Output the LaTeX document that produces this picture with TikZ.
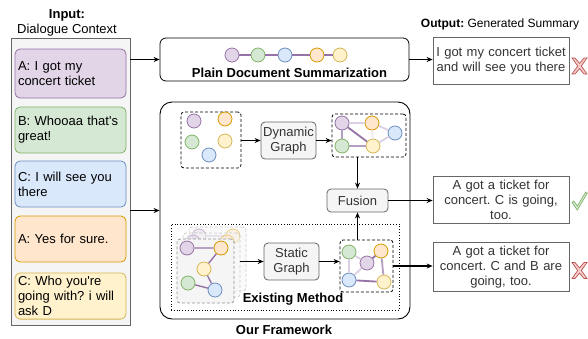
\documentclass[tikz,border=0pt]{standalone}
\usepackage{fontspec}
\setmainfont{Liberation Sans}[Ligatures=TeXOff]
\usetikzlibrary{arrows.meta}
\frenchspacing
\definecolor{purF}{HTML}{E1D5E7}\definecolor{purD}{HTML}{9673A6}
\definecolor{grnF}{HTML}{D5E8D4}\definecolor{grnD}{HTML}{82B366}
\definecolor{bluF}{HTML}{DAE8FC}\definecolor{bluD}{HTML}{6C8EBF}
\definecolor{orgF}{HTML}{FFE6CC}\definecolor{orgD}{HTML}{D79B00}
\definecolor{ylwF}{HTML}{FFF2CC}\definecolor{ylwD}{HTML}{D6B656}
\definecolor{gryF}{HTML}{F5F5F5}\definecolor{gryD}{HTML}{666666}
\definecolor{redF}{HTML}{F8CECC}\definecolor{redD}{HTML}{B85450}
\definecolor{txtG}{HTML}{333333}
\definecolor{eDark}{HTML}{9673A6}\definecolor{eMid}{HTML}{B49DC2}
\definecolor{eLight}{HTML}{DCCFE3}\definecolor{eFaint}{HTML}{EEE8F1}
\tikzset{
  base/.style={font=\fontsize{13}{15}\selectfont},
  boldtxt/.style={font=\bfseries\fontsize{13}{15}\selectfont},
  dlg/.style={base, rounded corners=5pt, line width=0.8pt, minimum height=46pt,
    text width=105pt, inner xsep=3pt, align=left},
  outbox/.style={base, draw=gryD, line width=0.8pt, text=txtG, align=center,
    text width=132pt, inner xsep=2pt, minimum height=47pt},
  procbox/.style={base, draw=gryD, fill=gryF, text=txtG, rounded corners=4pt,
    line width=0.8pt, align=center, inner sep=0pt},
  dbox/.style={draw=black, dashed, dash pattern=on 3pt off 2pt, line width=0.8pt,
    rounded corners=3pt, inner sep=0pt},
  card/.style={draw=gryD!70, fill=gryF, dashed, dash pattern=on 3pt off 2pt,
    line width=0.8pt, rounded corners=3pt, inner sep=0pt, minimum width=57pt, minimum height=64pt},
  gn/.style={circle, minimum size=14pt, inner sep=0pt, line width=0.8pt},
  cpur/.style={gn, fill=purF, draw=purD},
  cgrn/.style={gn, fill=grnF, draw=grnD},
  cblu/.style={gn, fill=bluF, draw=bluD},
  corg/.style={gn, fill=orgF, draw=orgD},
  cylw/.style={gn, fill=ylwF, draw=ylwD},
  ge/.style={line width=1.8pt},
  arr/.style={-{Stealth[length=6pt,width=5pt]}, line width=1.2pt},
  pics/redx/.style={code={\draw[draw=redD, fill=redF, line width=0.7pt]
    (-7.5,-8) -- (-4.5,-8) -- (0,-2.6) -- (4.5,-8) -- (7.5,-8) -- (1.8,0) -- (7.5,8)
    -- (4.5,8) -- (0,2.6) -- (-4.5,8) -- (-7.5,8) -- (-1.8,0) -- cycle;}},
  pics/okcheck/.style={code={\draw[draw=grnD, fill=grnF, line width=0.7pt]
    (-7.5,1.5) -- (-5.8,0) -- (-2.2,5) -- (6.2,-9) -- (7.8,-7.8) -- (-2.2,9) -- cycle;}}
}
\begin{document}
\begin{tikzpicture}[x=1pt,y=-1pt]
\useasboundingbox (0,0) rectangle (588,338);

% ---------- input ----------
\node[boldtxt] (inT) at (67,15) {Input:};
\node[base] (inS) at (67,30) {Dialogue Context};
\node[draw=gryD, fill=gryF, line width=0.8pt, minimum width=119pt, minimum height=287pt, inner sep=0pt] (ctx) at (70.5,181.5) {};
\node[dlg, fill=purF, draw=purD, minimum height=49pt] (d1) at (70.5,73.5) {A: I got my\\concert ticket};
\node[dlg, fill=grnF, draw=grnD] (d2) at (70.5,130) {B: Whooaa that's\\great!};
\node[dlg, fill=bluF, draw=bluD] (d3) at (70.5,184) {C: I will see you\\there};
\node[dlg, fill=orgF, draw=orgD] (d4) at (70.5,239) {A: Yes for sure.};
\node[dlg, fill=ylwF, draw=ylwD] (d5) at (70.5,296) {C: Who you're\\going with? i will\\ask D};

% ---------- plain summarization ----------
\node[draw=black, rounded corners=6pt, line width=0.8pt, minimum width=249pt, minimum height=43pt, inner sep=0pt] (plain) at (284.5,59.5) {};
\node[cpur] (pa1) at (232,55) {};
\node[cgrn] (pa2) at (258,55) {};
\node[cblu] (pa3) at (285,55) {};
\node[corg] (pa4) at (317,55) {};
\node[cylw] (pa5) at (340,55) {};
\draw[ge, eDark, line width=1.4pt] (pa1) -- (pa2) (pa2) -- (pa3) (pa3) -- (pa4) (pa4) -- (pa5);
\node[boldtxt] (plainT) at (289.5,73) {Plain Document Summarization};

% ---------- framework ----------
\node[draw=black, rounded corners=12pt, line width=0.9pt, minimum width=250pt, minimum height=217pt, inner sep=0pt] (fw) at (285,210.5) {};
\node[boldtxt] (fwT) at (284,330) {Our Framework};

% dynamic branch
\node[dbox, minimum width=60pt, minimum height=56pt] (b1) at (211,140) {};
\node[cpur] (q1) at (194,121) {};
\node[corg] (q2) at (225,119) {};
\node[cgrn] (q3) at (192,142) {};
\node[cylw] (q4) at (225,141) {};
\node[cblu] (q5) at (209,155) {};

\node[procbox, minimum width=55pt, minimum height=37pt] (dyn) at (288.5,140.5) {Dynamic\\Graph};

\node[dbox, minimum width=74pt, minimum height=43pt] (b2) at (369,135.5) {};
\node[cpur] (r1) at (342,123) {};
\node[corg] (r2) at (372,123) {};
\node[cblu] (r3) at (395,133) {};
\node[cgrn] (r4) at (342,146) {};
\node[cylw] (r5) at (373,146) {};
\draw[ge, eLight] (r1) -- (r2);
\draw[ge, eFaint] (r2) -- (r5);
\draw[ge, eLight] (r2) -- (r3);
\draw[ge, eLight] (r5) -- (r3);
\draw[ge, eMid] (r1) -- (r4);
\draw[ge, eMid] (r4) -- (r5);
\draw[ge, eDark] (r1) -- (r5);

\node[procbox, minimum width=61pt, minimum height=23pt] (fus) at (357.5,200.5) {Fusion};

% existing method
\node[draw=black, dotted, line width=0.8pt, minimum width=228pt, minimum height=86pt, inner sep=0pt] (ex) at (285,267) {};
\node[boldtxt] (exT) at (293,299) {Existing Method};

\foreach \dx/\dy/\s in {12/-12/b, 6/-6/m}{
\begin{scope}[shift={(\dx,\dy)}, opacity=0.45]
  \node[card] (card\s) at (205.5,271) {};
  \node[cpur] (k\s1) at (187,248) {};
  \node[corg] (k\s2) at (221,248) {};
  \node[cylw] (k\s3) at (204,269) {};
  \node[cgrn] (k\s4) at (188,283) {};
  \node[cblu] (k\s5) at (215,290) {};
  \draw[ge, eDark, line width=1.4pt] (k\s1) -- (k\s2) (k\s2) -- (k\s3) (k\s3) -- (k\s5) (k\s4) -- (k\s5);
\end{scope}}
\node[card] (cardf) at (205.5,271) {};
\node[cpur] (kf1) at (187,248) {};
\node[corg] (kf2) at (221,248) {};
\node[cylw] (kf3) at (204,269) {};
\node[cgrn] (kf4) at (188,283) {};
\node[cblu] (kf5) at (215,290) {};
\draw[ge, eDark, line width=1.4pt] (kf1) -- (kf2) (kf2) -- (kf3) (kf3) -- (kf5) (kf4) -- (kf5);

\node[procbox, minimum width=55pt, minimum height=37pt] (stat) at (291.5,261.5) {Static\\Graph};

\node[dbox, minimum width=53pt, minimum height=52pt] (b3) at (366.5,266) {};
\node[cgrn] (s1) at (349,252) {};
\node[corg] (s2) at (381,251) {};
\node[cpur] (s3) at (367,263) {};
\node[cblu] (s4) at (349,280) {};
\node[cylw] (s5) at (384,282) {};
\draw[ge, eLight] (s1) -- (s3);
\draw[ge, eLight] (s1) -- (s4);
\draw[ge, eLight] (s4) -- (s3);
\draw[ge, eDark] (s3) -- (s2);
\draw[ge, eMid] (s2) -- (s5);
\draw[ge, eDark] (s4) -- (s5);

% ---------- outputs ----------
\node[font=\fontsize{12}{14}\selectfont] (outT) at (500,24) {\textbf{Output:} Generated Summary};
\node[outbox] (o1) at (501,60.5) {I got my concert ticket\\and will see you there};
\node[outbox] (o2) at (501,199.5) {A got a ticket for\\concert. C is going,\\too.};
\node[outbox] (o3) at (501,267) {A got a ticket for\\concert. C and B are\\going, too.};
\pic at (579.5,66) {redx};
\pic at (579.5,201) {okcheck};
\pic at (579.5,270.5) {redx};

% ---------- arrows ----------
\draw[arr] (ctx.east |- plain.west) -- (plain.west);
\draw[arr] (ctx.east |- fw.west) -- (fw.west);
\draw[arr] (plain.east) -- (plain.east -| o1.west);
\draw[arr] (b1.east |- dyn.west) -- (dyn.west);
\draw[arr] (dyn.east) -- (dyn.east -| b2.west);
\draw[arr] (fus.north |- b2.south) -- (fus.north);
\draw[arr] (fus.east) -- (fus.east -| o2.west);
\draw[arr] (cardm.east |- stat.west) -- (stat.west);
\draw[arr] (stat.east) -- (stat.east -| b3.west);
\draw[arr] (fus.south |- b3.north) -- (fus.south);
\draw[arr] (b3.east) -- (b3.east -| o3.west);
\end{tikzpicture}
\end{document}
